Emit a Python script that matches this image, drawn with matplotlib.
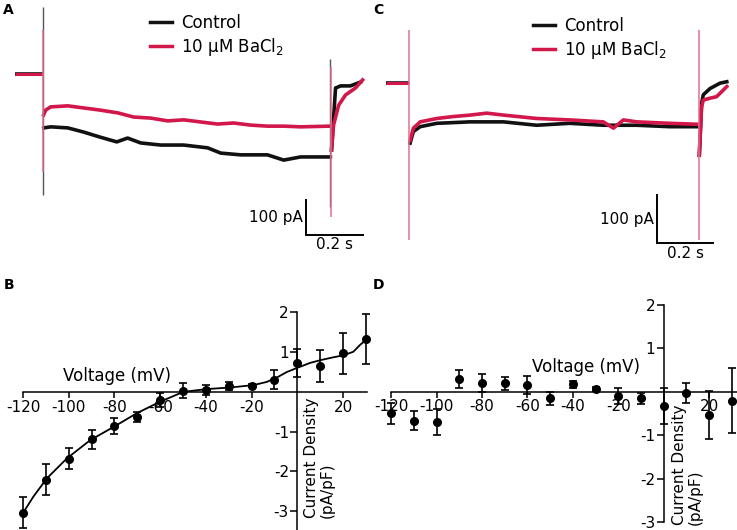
import matplotlib
matplotlib.use("Agg")
import matplotlib.pyplot as plt

plt.rcParams['font.family'] = ['DejaVu Sans']
plt.rcParams['axes.unicode_minus'] = False

RED = '#d2174a'
BLACK = '#111111'

##################################################################
# Data
##################################################################

# Panel A: current traces (time in s, current in pA, holding level = 0)
a_pre_t = [-0.098, 0.0]
a_pre_i = [0, 0]
a_ctrl_t = [0.0035, 0.028, 0.088, 0.144, 0.2, 0.26, 0.298, 0.344, 0.414, 0.495,
            0.579, 0.625, 0.695, 0.789, 0.846, 0.905, 1.01]
a_ctrl_i = [-154, -151, -154, -166, -180, -194, -183, -197, -203, -203,
            -211, -226, -231, -231, -246, -237, -237]
a_ba_t = [0.003, 0.0105, 0.028, 0.088, 0.144, 0.2, 0.263, 0.319, 0.379, 0.439,
          0.495, 0.554, 0.614, 0.67, 0.73, 0.789, 0.846, 0.905, 1.01]
a_ba_i = [-117, -103, -94, -91, -97, -103, -111, -123, -126, -134,
          -131, -137, -143, -140, -146, -149, -149, -151, -149]
a_ctrl_post_t = [1.014, 1.028, 1.046, 1.08, 1.116]
a_ctrl_post_i = [-217, -40, -34, -34, -23]
a_ba_post_t = [1.014, 1.021, 1.039, 1.063, 1.098, 1.123]
a_ba_post_i = [-217, -146, -89, -60, -40, -17]
# capacitive transients (time, top, bottom)
a_spike_ctrl = [(0.0, 191, -346), (1.01, 43, -380)]
a_spike_ba = [(0.0, 126, -280), (1.012, 20, -409)]

# Panel C: current traces
c_pre_t = [-0.082, 0.0]
c_pre_i = [0, 0]
c_ctrl_t = [0.0025, 0.014, 0.038, 0.097, 0.214, 0.332, 0.449, 0.566, 0.684,
            0.802, 0.919, 1.019]
c_ctrl_i = [-125, -101, -91, -84, -81, -81, -88, -84, -88, -88, -91, -91]
c_ba_t = [0.0025, 0.014, 0.038, 0.097, 0.155, 0.214, 0.273, 0.332, 0.449,
          0.566, 0.684, 0.72, 0.755, 0.802, 0.919, 1.019]
c_ba_i = [-119, -94, -81, -74, -70, -67, -63, -67, -74, -77, -81, -94, -77,
          -81, -84, -86]
c_ctrl_post_t = [1.023, 1.031, 1.037, 1.061, 1.096, 1.12]
c_ctrl_post_i = [-150, -43, -25, -12, -1, 2]
c_ba_post_t = [1.023, 1.031, 1.037, 1.061, 1.084, 1.108, 1.12]
c_ba_post_i = [-150, -50, -36, -32, -29, -15, -8]
c_spike_ba = [(0.0, 109, -326), (1.023, 109, -326)]

# Panel B: I-V relation (mV, pA/pF, SEM)
b_v = [-120, -110, -100, -90, -80, -70, -60, -50, -40, -30, -20, -10, 0, 10, 20, 30]
b_i = [-3.04, -2.21, -1.68, -1.19, -0.86, -0.63, -0.21, 0.03, 0.04, 0.14, 0.15,
       0.31, 0.72, 0.65, 0.97, 1.33]
b_err = [0.39, 0.39, 0.27, 0.24, 0.2, 0.13, 0.17, 0.19, 0.13, 0.1, 0.04, 0.23,
         0.35, 0.41, 0.52, 0.64]
b_fit_v = [-119.9, -115.5, -109.6, -100.9, -90.7, -79.7, -70.3, -60.1, -49.9,
           -39.6, -29.4, -19.2, -13.4, -9.0, -4.6, 0.2, 5.6, 10.2, 15.7, 20.1,
           24.5, 27.4, 30.4]
b_fit_i = [-3.04, -2.64, -2.18, -1.68, -1.22, -0.86, -0.54, -0.25, 0.0, 0.07,
           0.11, 0.17, 0.25, 0.36, 0.50, 0.61, 0.73, 0.80, 0.87, 0.92, 1.01,
           1.18, 1.33]

# Panel D: I-V relation
d_v = [-120, -110, -100, -90, -80, -70, -60, -50, -40, -30, -20, -10, 0, 10, 20, 30]
d_i = [-0.49, -0.66, -0.70, 0.29, 0.20, 0.20, 0.16, -0.15, 0.17, 0.07, -0.09,
       -0.15, -0.32, -0.02, -0.53, -0.20]
d_err = [0.24, 0.22, 0.3, 0.21, 0.21, 0.15, 0.2, 0.15, 0.08, 0.04, 0.18, 0.13,
         0.41, 0.23, 0.55, 0.74]

x_ticks = [-120, -100, -80, -60, -40, -20, 20]
y_ticks = [-3, -2, -1, 1, 2]

##################################################################
# Layout helpers
##################################################################

W, H = 737, 530
fig = plt.figure(figsize=(W / 100, H / 100), dpi=100)


def px_axes(left, top, right, bottom):
    return fig.add_axes([left / W, 1 - bottom / H, (right - left) / W, (bottom - top) / H])


def trace_panel(ax, pre, ctrl, ba, ctrl_post, ba_post, spikes_ctrl, spikes_ba,
                bar_origin, legend_xy):
    ax.plot(*pre, color=BLACK, lw=2.6, solid_capstyle='butt')
    ax.plot(*ctrl, color=BLACK, lw=2.6, label='Control')
    ax.plot(*ctrl_post, color=BLACK, lw=2.6)
    ax.plot(*pre, color=RED, lw=2.2, solid_capstyle='butt')
    ax.plot(*ba, color=RED, lw=2.6, label='10 μM BaCl$_2$')
    ax.plot(*ba_post, color=RED, lw=2.6)
    for t, top, bot in spikes_ctrl:
        ax.vlines(t, bot, top, color='#555555', lw=1.0)
    for t, top, bot in spikes_ba:
        ax.vlines(t, bot, top, color='#e0708c', lw=1.1)

    t0, i0 = bar_origin
    ax.plot([t0, t0, t0 + 0.2], [i0 + 100, i0, i0], color='black', lw=1.4,
            solid_joinstyle='miter')
    ax.text(t0 - 0.012, i0 + 50, '100 pA', ha='right', va='center', fontsize=11)
    ax.text(t0 + 0.1, i0 - 6, '0.2 s', ha='center', va='top', fontsize=11)

    leg = ax.legend(loc='upper left', bbox_to_anchor=legend_xy, frameon=False,
                    fontsize=12, handlelength=1.35, handletextpad=0.5,
                    labelspacing=0.25, borderpad=0, borderaxespad=0)
    for line in leg.get_lines():
        line.set_linewidth(2.5)
    ax.axis('off')


def iv_panel(ax, v, i, err, y_bottom, label_xy, ylabel_xy, x_right):
    ax.errorbar(v, i, yerr=err, fmt='o', color='black', ms=5.5, capsize=3,
                elinewidth=1.2, capthick=1.2)
    for side in ['top', 'right']:
        ax.spines[side].set_visible(False)
    ax.spines['left'].set_position(('data', 0))
    ax.spines['bottom'].set_position(('data', 0))
    ax.spines['left'].set_bounds(y_bottom, 2)
    ax.spines['bottom'].set_bounds(-120, x_right)
    for side in ['left', 'bottom']:
        ax.spines[side].set_linewidth(1.1)
    ax.set_xticks(x_ticks)
    ax.set_yticks(y_ticks)
    ax.tick_params(axis='x', direction='out', length=4.5, width=1.1, pad=1, labelsize=11)
    ax.tick_params(axis='y', direction='out', length=5, width=1.1, pad=1, labelsize=11)
    ax.patch.set_alpha(0)
    ax.text(*label_xy, 'Voltage (mV)', ha='center', va='center', fontsize=12)
    ax.text(*ylabel_xy, 'Current Density\n(pA/pF)', rotation=90, ha='center',
            va='bottom', multialignment='left', fontsize=11, linespacing=1.05)


##################################################################
# Panels
##################################################################

ax_a = px_axes(0, 0, 370, 265)
trace_panel(ax_a, (a_pre_t, a_pre_i), (a_ctrl_t, a_ctrl_i), (a_ba_t, a_ba_i),
            (a_ctrl_post_t, a_ctrl_post_i), (a_ba_post_t, a_ba_post_i),
            a_spike_ctrl, a_spike_ba, (0.926, -460), (0.405, 0.947))
ax_a.set_xlim(-0.15, 1.149)
ax_a.set_ylim(-545.7, 211.4)

ax_c = px_axes(370, 0, 737, 265)
trace_panel(ax_c, (c_pre_t, c_pre_i), (c_ctrl_t, c_ctrl_i), (c_ba_t, c_ba_i),
            (c_ctrl_post_t, c_ctrl_post_i), (c_ba_post_t, c_ba_post_i),
            [], c_spike_ba, (0.873, -332.5), (0.444, 0.936))
ax_c.set_xlim(-0.139, 1.156)
ax_c.set_ylim(-377, 171)

ax_b = px_axes(0, 270, 370, 530)
ax_b.plot(b_fit_v, b_fit_i, color='black', lw=1.3)
iv_panel(ax_b, b_v, b_i, b_err, -3.48, (-78.9, 0.40), (9.5, -3.18), 30.5)
ax_b.set_xlim(-130.1, 31.8)
ax_b.set_ylim(-3.48, 3.07)

ax_d = px_axes(370, 270, 737, 530)
iv_panel(ax_d, d_v, d_i, d_err, -3, (-34.2, 0.57), (10.3, -3.06), 32.3)
ax_d.set_xlim(-129.3, 32.3)
ax_d.set_ylim(-3.18, 2.805)

for x, y, s in [(3, 3, 'A'), (373, 3, 'C'), (4, 278, 'B'), (373, 278, 'D')]:
    fig.text(x / W, 1 - y / H, s, fontsize=10, fontweight='bold', ha='left', va='top')

fig.savefig('out.png', dpi=100)
